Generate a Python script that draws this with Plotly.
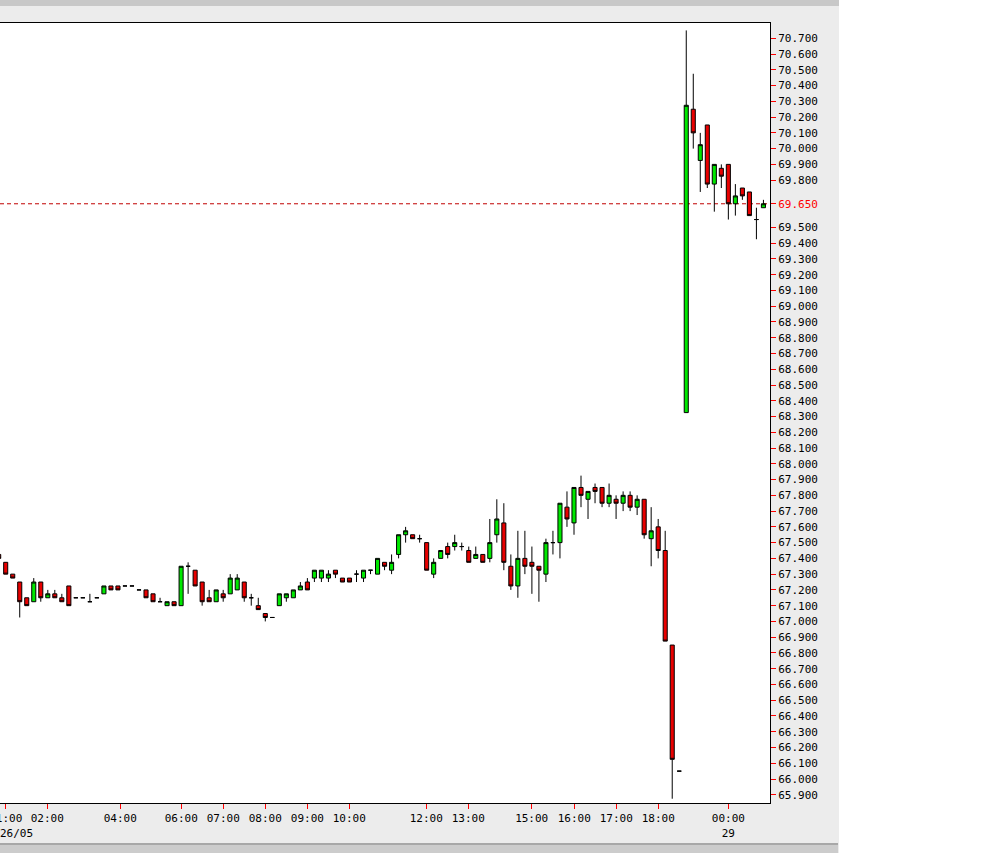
import plotly.graph_objects as go

# ---- data: 10-minute bars (bar index order), prices ----
opens = [67.425, 67.375, 67.30, 67.25, 67.15, 67.125, 67.25, 67.15, 67.175, 67.15,
         67.225, 67.15, 67.15, 67.125, 67.15, 67.175, 67.225, 67.225, 67.225, 67.225,
         67.20, 67.20, 67.175, 67.125, 67.10, 67.125, 67.10, 67.35, 67.325, 67.25,
         67.15, 67.125, 67.175, 67.175, 67.20, 67.25, 67.15, 67.10, 67.05, 67.025,
         67.10, 67.15, 67.15, 67.20, 67.25, 67.275, 67.275, 67.275, 67.325, 67.275,
         67.275, 67.30, 67.275, 67.325, 67.30, 67.375, 67.325, 67.425, 67.55, 67.55,
         67.525, 67.50, 67.30, 67.40, 67.475, 67.475, 67.475, 67.45, 67.40, 67.425,
         67.40, 67.55, 67.625, 67.35, 67.225, 67.40, 67.375, 67.35, 67.30, 67.50,
         67.50, 67.725, 67.625, 67.85, 67.775, 67.85, 67.85, 67.75, 67.775, 67.75,
         67.80, 67.725, 67.775, 67.525, 67.60, 67.45, 66.85, 66.05, 68.325, 70.25,
         69.925, 70.15, 69.775, 69.875, 69.90, 69.65, 69.75, 69.725, 69.55, 69.625]
highs = [67.425, 67.375, 67.30, 67.25, 67.15, 67.275, 67.25, 67.20, 67.20, 67.175,
         67.225, 67.15, 67.15, 67.175, 67.15, 67.225, 67.225, 67.225, 67.225, 67.225,
         67.20, 67.20, 67.175, 67.15, 67.125, 67.125, 67.35, 67.375, 67.325, 67.25,
         67.20, 67.20, 67.20, 67.30, 67.30, 67.25, 67.175, 67.15, 67.05, 67.025,
         67.175, 67.175, 67.20, 67.25, 67.275, 67.325, 67.325, 67.325, 67.325, 67.275,
         67.275, 67.325, 67.325, 67.325, 67.40, 67.375, 67.425, 67.55, 67.60, 67.55,
         67.55, 67.50, 67.40, 67.45, 67.50, 67.55, 67.50, 67.475, 67.475, 67.425,
         67.65, 67.775, 67.75, 67.425, 67.575, 67.575, 67.475, 67.35, 67.525, 67.575,
         67.75, 67.825, 67.85, 67.925, 67.825, 67.875, 67.85, 67.875, 67.80, 67.825,
         67.825, 67.80, 67.775, 67.725, 67.65, 67.575, 66.85, 66.05, 70.75, 70.475,
         70.10, 70.15, 69.90, 69.90, 69.90, 69.775, 69.75, 69.725, 69.625, 69.675]
lows = [67.40, 67.30, 67.275, 67.025, 67.10, 67.125, 67.125, 67.15, 67.15, 67.125,
        67.10, 67.15, 67.15, 67.125, 67.15, 67.175, 67.20, 67.20, 67.225, 67.225,
        67.20, 67.15, 67.125, 67.125, 67.10, 67.10, 67.10, 67.175, 67.225, 67.10,
        67.125, 67.125, 67.125, 67.175, 67.20, 67.125, 67.10, 67.075, 67.00, 67.025,
        67.10, 67.125, 67.15, 67.20, 67.20, 67.25, 67.25, 67.25, 67.275, 67.25,
        67.25, 67.25, 67.25, 67.30, 67.30, 67.325, 67.30, 67.40, 67.50, 67.525,
        67.50, 67.325, 67.275, 67.40, 67.40, 67.45, 67.45, 67.375, 67.40, 67.375,
        67.375, 67.50, 67.325, 67.20, 67.15, 67.30, 67.175, 67.125, 67.25, 67.425,
        67.40, 67.60, 67.55, 67.725, 67.65, 67.75, 67.725, 67.725, 67.65, 67.70,
        67.70, 67.675, 67.525, 67.35, 67.40, 66.875, 65.875, 66.05, 68.325, 70.00,
        69.725, 69.75, 69.60, 69.75, 69.55, 69.575, 69.675, 69.575, 69.425, 69.625]
closes = [67.40, 67.30, 67.275, 67.125, 67.10, 67.25, 67.15, 67.175, 67.15, 67.125,
          67.10, 67.15, 67.15, 67.125, 67.15, 67.225, 67.20, 67.20, 67.225, 67.225,
          67.20, 67.15, 67.125, 67.125, 67.125, 67.10, 67.35, 67.35, 67.225, 67.125,
          67.125, 67.20, 67.15, 67.275, 67.275, 67.15, 67.15, 67.075, 67.025, 67.025,
          67.175, 67.175, 67.20, 67.225, 67.20, 67.325, 67.325, 67.30, 67.30, 67.25,
          67.25, 67.30, 67.325, 67.325, 67.40, 67.35, 67.375, 67.55, 67.575, 67.525,
          67.525, 67.325, 67.375, 67.45, 67.425, 67.50, 67.475, 67.375, 67.425, 67.375,
          67.50, 67.65, 67.375, 67.225, 67.40, 67.35, 67.35, 67.325, 67.50, 67.50,
          67.75, 67.65, 67.85, 67.80, 67.825, 67.825, 67.75, 67.80, 67.75, 67.80,
          67.725, 67.775, 67.55, 67.575, 67.45, 66.875, 66.125, 66.05, 70.275, 70.10,
          70.025, 69.775, 69.90, 69.825, 69.65, 69.70, 69.70, 69.575, 69.55, 69.65]

bar_index = list(range(-1, -1 + len(opens)))

last_price = 69.65

x_tick_pos = [0, 5.93, 16.33, 25.03, 31.01, 37.0, 42.99, 48.97, 59.95, 65.93,
              74.97, 81.04, 87.03, 93.01, 103.0]
x_tick_text = ["01:00", "02:00", "04:00", "06:00", "07:00", "08:00", "09:00",
               "10:00", "12:00", "13:00", "15:00", "16:00", "17:00", "18:00",
               "00:00<br>29"]
first_date_label = "26/05"

y_tick_vals = [round(65.9 + 0.1 * i, 3) for i in range(49)]
y_tick_vals = [v for v in y_tick_vals if abs(v - 69.6) > 1e-6 and abs(v - 69.7) > 1e-6]
y_tick_vals.append(last_price)
y_tick_vals.sort()
y_tick_text = []
for v in y_tick_vals:
    if abs(v - last_price) < 1e-6:
        y_tick_text.append("<span style='color:#FF0000'>%.3f</span>" % v)
    else:
        y_tick_text.append("%.3f" % v)

# ---- layout geometry (pixels) ----
W, H = 1000, 858
PL, PR, PT, PB = 0, 770, 23, 803  # plot area box


def xp(px):
    return (px - PL) / (PR - PL)


def yp(py):
    return (PB - py) / (PB - PT)


fig = go.Figure()
fig.add_trace(go.Candlestick(
    x=bar_index, open=opens, high=highs, low=lows, close=closes,
    increasing=dict(fillcolor="#00E800", line=dict(color="#000000", width=1)),
    decreasing=dict(fillcolor="#E80000", line=dict(color="#000000", width=1)),
    whiskerwidth=0, showlegend=False, hoverinfo="skip",
))

shapes = [
    # white outside the gray panel
    dict(type="rect", xref="paper", yref="paper", x0=xp(839), x1=xp(1005),
         y0=yp(-5), y1=yp(865), fillcolor="#FFFFFF", line_width=0, layer="below"),
    dict(type="rect", xref="paper", yref="paper", x0=xp(-5), x1=xp(1005),
         y0=yp(853), y1=yp(865), fillcolor="#FFFFFF", line_width=0, layer="below"),
    # top dark band
    dict(type="rect", xref="paper", yref="paper", x0=xp(-5), x1=xp(839),
         y0=yp(-5), y1=yp(6), fillcolor="#C8C8C8", line_width=0, layer="below"),
    # bottom bands
    dict(type="rect", xref="paper", yref="paper", x0=xp(-5), x1=xp(838),
         y0=yp(843), y1=yp(845), fillcolor="#A8A8A8", line_width=0, layer="below"),
    dict(type="rect", xref="paper", yref="paper", x0=xp(-5), x1=xp(838),
         y0=yp(845), y1=yp(853), fillcolor="#CCCCCC", line_width=0, layer="below"),
    # last price dashed line
    dict(type="line", xref="paper", yref="y", x0=0, x1=1, y0=last_price, y1=last_price,
         line=dict(color="#C00000", width=1, dash="4px,3px"), layer="below"),
]

y_lo = 70.7 - (PB - 38.3) / 157.6
y_hi = 70.7 - (PT - 38.3) / 157.6
x_lo = (PL - 5.7) / 7.016
x_hi = (PR - 5.7) / 7.016

font = dict(family="DejaVu Sans Mono", size=11, color="#000000")

fig.update_layout(
    width=W, height=H,
    margin=dict(l=PL, r=W - PR, t=PT, b=H - PB, pad=0, autoexpand=False),
    paper_bgcolor="#ECECEC", plot_bgcolor="#FFFFFF",
    shapes=shapes, boxgap=0.42, boxgroupgap=0,
    font=font,
    annotations=[dict(text=first_date_label, xref="paper", yref="paper",
                      x=0, xanchor="left", y=yp(833), yanchor="middle",
                      showarrow=False, font=font, borderpad=0, xshift=-1)],
    xaxis=dict(
        range=[x_lo, x_hi], rangeslider=dict(visible=False),
        tickmode="array", tickvals=x_tick_pos, ticktext=x_tick_text,
        ticks="outside", ticklen=5, tickwidth=1, tickcolor="#FF0000",
        showgrid=False, zeroline=False, ticklabeloverflow="allow",
        showline=True, linecolor="#000000", linewidth=1, mirror=True,
        tickfont=font, tickangle=0,
    ),
    yaxis=dict(
        range=[y_lo, y_hi], side="right",
        tickmode="array", tickvals=y_tick_vals, ticktext=y_tick_text,
        ticks="outside", ticklen=5, tickwidth=1, tickcolor="#FF0000",
        showgrid=False, zeroline=False,
        showline=True, linecolor="#000000", linewidth=1, mirror=False,
        tickfont=font,
    ),
)

fig.write_html(
    "out.html",
    config={"displayModeBar": False},
    post_script="document.body.style.margin='0px';document.body.style.padding='0px';",
)
